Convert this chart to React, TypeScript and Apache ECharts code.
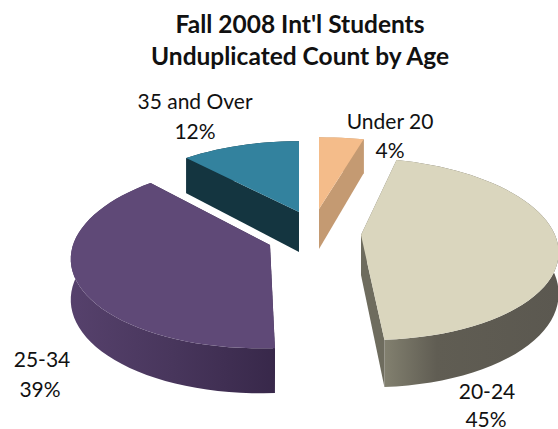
import React, { useEffect, useRef } from "react";
import * as echarts from "echarts";

const categories = ["Under 20", "20-24", "25-34", "35 and Over"];
const shares = [4, 45, 39, 12];
const titleLines = ["Fall 2008 Int'l Students", "Unduplicated Count by Age"];

const apexes = [
  [319, 209],
  [361, 235],
  [270, 245],
  [299, 212],
];
// per-slice perspective: horizontal radius, vertical radius, foreshortening, shear
const radiiX = [212, 194, 197, 187];
const radiiY = [85, 89, 92, 84];
const foreshorten = [0.186, 0.153, 0.11, 0.186];
const shears = [0, 0.086, -0.087, 0];

const topColors = ["#F4BC8A", "#DAD6BE", "#5F4977", "#33829E"];
const wallStops = [
  [[0, "#C49A72"], [1, "#C49A72"]],
  [[0, "#82806F"], [0.3, "#605D53"], [1, "#5B5850"]],
  [[0, "#56416C"], [0.5, "#48365C"], [1, "#38284A"]],
  [[0, "#143540"], [1, "#143540"]],
];
const edgeColors = ["#C49A72", "#6E6C5E", "#38284A", "#143540"];
const labelSpots = [
  [390, 120, 390, 149],
  [487, 390, 486, 418],
  [42, 358, 40, 388],
  [195, 100, 195, 130],
];
const drawOrder = [3, 0, 2, 1];

const DEPTH = 40;
const FONT = "Lato";

const total = shares.reduce((a, b) => a + b, 0);

function angles(i: number) {
  let acc = 0;
  for (let j = 0; j < i; j++) acc += shares[j];
  return [(acc / total) * 2 * Math.PI, ((acc + shares[i]) / total) * 2 * Math.PI];
}

function proj(i: number, t: number, r = 1) {
  const [ax, ay] = apexes[i];
  const v = Math.cos(t) * r;
  const d = 1 + foreshorten[i] * v;
  const dy = -(radiiY[i] * v) / d;
  const h = DEPTH / d;
  return { x: ax + (radiiX[i] * Math.sin(t) * r) / d + shears[i] * dy, y: ay + dy, h };
}

function renderSlice(params: any, api: any) {
  const i = drawOrder[params.dataIndex];
  const [a0, a1] = angles(i);
  const steps = Math.max(6, Math.round(((a1 - a0) / (2 * Math.PI)) * 120));
  const top: number[][] = [];
  const bottom: number[][] = [];
  for (let s = 0; s <= steps; s++) {
    const p = proj(i, a0 + ((a1 - a0) * s) / steps);
    top.push([p.x, p.y]);
    bottom.push([p.x, p.y + p.h]);
  }
  const apex = proj(i, 0, 0);
  const apexLow = [apex.x, apex.y + apex.h];
  const grad = new echarts.graphic.LinearGradient(
    0, 0, 1, 0,
    wallStops[i].map(([offset, color]) => ({ offset: offset as number, color: color as string }))
  );
  const solid = edgeColors[i];
  const children: any[] = [
    {
      type: "polygon",
      shape: { points: [...top, ...bottom.slice().reverse()] },
      style: { fill: grad },
    },
    {
      type: "polygon",
      shape: { points: [[apex.x, apex.y], top[0], bottom[0], apexLow] },
      style: { fill: solid },
    },
    {
      type: "polygon",
      shape: { points: [[apex.x, apex.y], top[steps], bottom[steps], apexLow] },
      style: { fill: solid },
    },
    {
      type: "polygon",
      shape: { points: [[apex.x, apex.y], ...top] },
      style: { fill: topColors[i] },
    },
  ];
  const [lx, ly, px, py] = labelSpots[i];
  children.push(
    {
      type: "text",
      x: lx,
      y: ly,
      style: { text: categories[i], fontFamily: FONT, fontSize: 21, fill: "#111", align: "center", verticalAlign: "middle" },
    },
    {
      type: "text",
      x: px,
      y: py,
      style: { text: `${api.value(0)}%`, fontFamily: FONT, fontSize: 21, fill: "#111", align: "center", verticalAlign: "middle" },
    }
  );
  return { type: "group", children };
}

export default function App() {
  const ref = useRef<HTMLDivElement>(null);
  useEffect(() => {
    const chart = echarts.init(ref.current!, undefined, { renderer: "svg" });
    chart.setOption({
      animation: false,
      backgroundColor: "#fff",
      title: {
        text: titleLines.join("\n"),
        left: 295,
        top: 2,
        textAlign: "center",
        textStyle: { fontFamily: FONT, fontWeight: "bold", fontSize: 24.5, lineHeight: 32, color: "#111" },
      },
      series: [
        {
          type: "custom",
          coordinateSystem: "none",
          silent: true,
          clip: false,
          data: drawOrder.map((i) => [shares[i]]),
          dimensions: ["share"],
          encode: { value: 0 },
          renderItem: renderSlice,
        },
      ],
    });
    return () => chart.dispose();
  }, []);
  return <div ref={ref} style={{ position: "absolute", left: 0, top: 0, width: 558, height: 429 }} />;
}
